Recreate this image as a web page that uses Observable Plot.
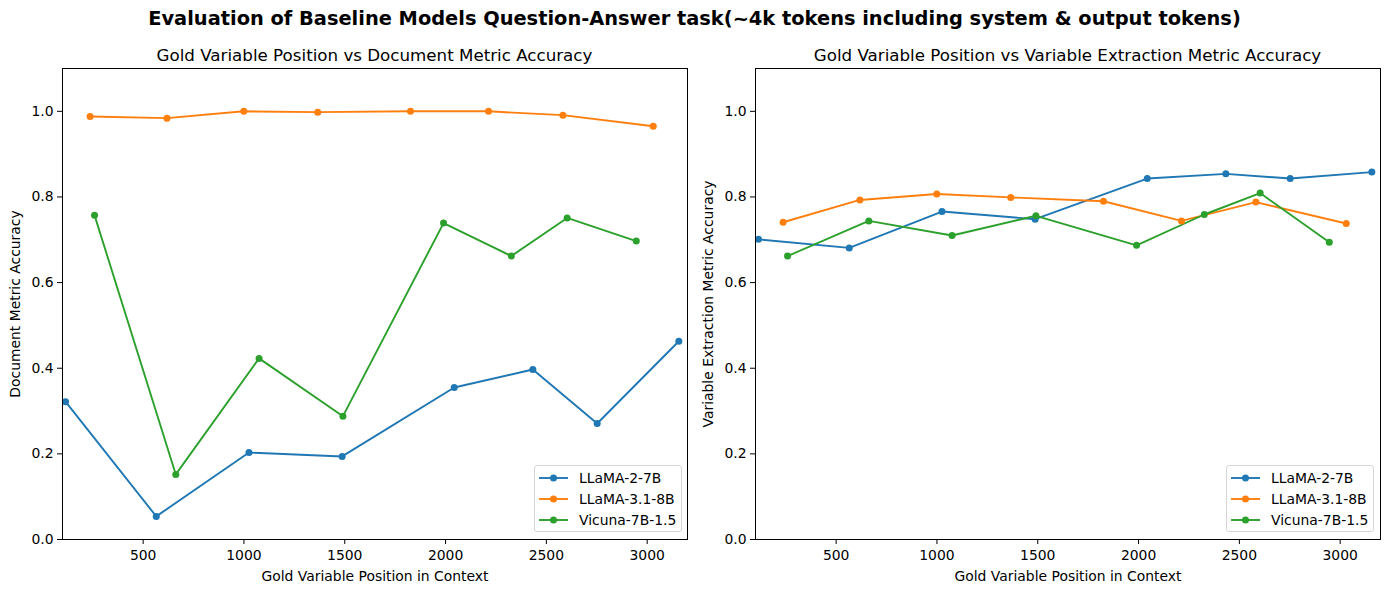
<!DOCTYPE html>
<html><head><meta charset="utf-8">
<script src="https://cdn.jsdelivr.net/npm/d3@7"></script>
<script src="https://cdn.jsdelivr.net/npm/@observablehq/plot@0.6"></script>
<style>
body{margin:0;background:#fff;font-family:"DejaVu Sans",sans-serif;}
#wrap{position:relative;width:1389px;height:592px;overflow:hidden;background:#fff;}
.abs{position:absolute;white-space:nowrap;}
.sup{left:0;width:1389px;top:7px;text-align:center;font-weight:bold;font-size:19.4px;line-height:24px;}
.ttl{font-size:16.7px;line-height:20px;text-align:center;top:45px;}
.legend{border:1px solid #d6d6d6;border-radius:3px;background:rgba(255,255,255,0.85);font-size:13.9px;}
.legend div{height:21px;display:flex;align-items:center;}
.legend svg{margin:0 11px 0 4px;}
</style>
</head><body>
<div id="wrap">
  <div class="abs sup">Evaluation of Baseline Models Question-Answer task(~4k tokens including system &amp; output tokens)</div>
  <div class="abs ttl" style="left:62px;width:625px;">Gold Variable Position vs Document Metric Accuracy</div>
  <div class="abs ttl" style="left:755px;width:625px;">Gold Variable Position vs Variable Extraction Metric Accuracy</div>
  <div id="left" class="abs" style="left:0;top:0;"></div>
  <div id="right" class="abs" style="left:694px;top:0;"></div>
</div>
<script>
const models = ["LLaMA-2-7B", "LLaMA-3.1-8B", "Vicuna-7B-1.5"];
const colors = ["#1f77b4", "#ff7f0e", "#2ca02c"];

// gold variable positions (tokens) per model
const llama2Pos  = [115, 565, 1025, 1487, 2043, 2433, 2752, 3157];
const llama31Pos = [237, 618, 999, 1366, 1826, 2213, 2582, 3030];
const vicunaPos  = [259, 662, 1075, 1491, 1990, 2326, 2603, 2946];

// document metric accuracy
const llama2Doc  = [0.322, 0.054, 0.203, 0.194, 0.355, 0.397, 0.271, 0.463];
const llama31Doc = [0.988, 0.984, 1.000, 0.998, 1.000, 1.000, 0.991, 0.965];
const vicunaDoc  = [0.757, 0.152, 0.423, 0.288, 0.739, 0.662, 0.751, 0.697];

// variable extraction metric accuracy
const llama2Var  = [0.701, 0.681, 0.766, 0.748, 0.843, 0.854, 0.843, 0.858];
const llama31Var = [0.741, 0.793, 0.807, 0.799, 0.790, 0.744, 0.788, 0.738];
const vicunaVar  = [0.662, 0.744, 0.710, 0.756, 0.687, 0.759, 0.809, 0.694];

const xTicks = [500, 1000, 1500, 2000, 2500, 3000];
const yTicks = [0, 0.2, 0.4, 0.6, 0.8, 1.0];

function rows(series) {
  const out = [];
  series.forEach(([pos, vals], i) => {
    pos.forEach((p, j) => out.push({model: models[i], pos: p, val: vals[j]}));
  });
  return out;
}
const docRows = rows([[llama2Pos, llama2Doc], [llama31Pos, llama31Doc], [vicunaPos, vicunaDoc]]);
const varRows = rows([[llama2Pos, llama2Var], [llama31Pos, llama31Var], [vicunaPos, vicunaVar]]);

function panel(data, ylabel, width, mLeft, mRight) {
  return Plot.plot({
    width, height: 592,
    marginLeft: mLeft, marginRight: mRight, marginTop: 68, marginBottom: 53,
    style: {fontFamily: "DejaVu Sans", fontSize: "13.9px", background: "transparent", color: "black", overflow: "visible"},
    x: {domain: [100, 3200]},
    y: {domain: [0, 1.1]},
    color: {domain: models, range: colors},
    marks: [
      Plot.line(data, {x: "pos", y: "val", z: "model", stroke: "model", strokeWidth: 1.9}),
      Plot.dot(data, {x: "pos", y: "val", fill: "model", r: 3.5}),
      Plot.axisX({ticks: xTicks, tickFormat: d3.format("d"), tickSize: 5, tickPadding: 6, label: "Gold Variable Position in Context",
        labelAnchor: "center", labelArrow: "none", labelOffset: 41}),
      Plot.axisY({ticks: yTicks, tickFormat: d3.format(".1f"), tickSize: 5, tickPadding: 4, label: ylabel,
        labelAnchor: "center", labelArrow: "none", labelOffset: 52}),
      Plot.frame({stroke: "black", strokeWidth: 1})
    ]
  });
}

function legend(left) {
  const d = document.createElement("div");
  d.className = "abs legend";
  d.style.left = left + "px";
  d.style.top = "465px";
  d.style.width = "148px";
  d.style.height = "67px";
  d.style.paddingTop = "1px";
  d.style.boxSizing = "border-box";
  models.forEach((m, i) => {
    const row = document.createElement("div");
    row.innerHTML = `<svg width="29" height="10"><line x1="0" y1="5" x2="29" y2="5" stroke="${colors[i]}" stroke-width="1.9"/><circle cx="14.5" cy="5" r="3.5" fill="${colors[i]}"/></svg><span>${m}</span>`;
    d.appendChild(row);
  });
  document.getElementById("wrap").appendChild(d);
}

document.getElementById("left").appendChild(panel(docRows, "Document Metric Accuracy", 694, 62, 7));
document.getElementById("right").appendChild(panel(varRows, "Variable Extraction Metric Accuracy", 695, 61, 9));
legend(534);
legend(1226);
</script>
</body></html>
